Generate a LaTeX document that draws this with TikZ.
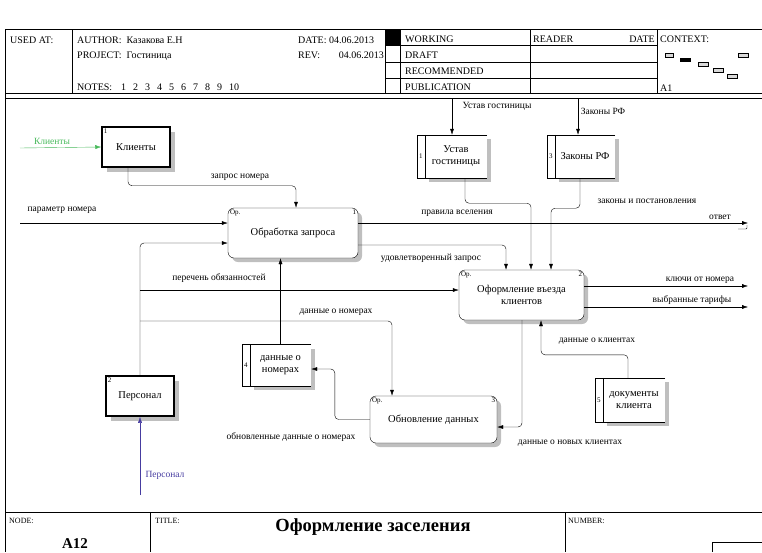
\documentclass[tikz,border=0pt]{standalone}
\usepackage{fontspec}
\setmainfont{Liberation Serif}
\usetikzlibrary{arrows.meta, shadows}
\newcommand\lblsize{\fontsize{9.5}{10.5}\selectfont}
\newcommand\boxsize{\fontsize{10.5}{12}\selectfont}
\newcommand\hdrsize{\fontsize{10}{11}\selectfont}
\newcommand\smallsize{\fontsize{8}{9}\selectfont}
\newcommand\tinysize{\fontsize{7}{8}\selectfont}
\definecolor{extgreen}{RGB}{70,185,90}
\definecolor{extblue}{RGB}{70,60,160}
\tikzset{
  ext/.style={draw, line width=1.5pt, fill=white, minimum width=68pt, minimum height=40pt, font=\boxsize,
    general shadow={fill=gray!50, shadow xshift=5pt, shadow yshift=-5pt}},
  act/.style={draw, rounded corners=6pt, fill=white, font=\boxsize, align=center,
    general shadow={fill=gray!50, shadow xshift=4pt, shadow yshift=-4pt},
    label={[anchor=north west, font=\tinysize, inner sep=2pt]north west:Ор.},
    label={[anchor=north east, font=\tinysize, inner sep=2pt]north east:#1}},
  store/.style={fill=white, align=center, font=\boxsize, inner sep=1pt, minimum height=43pt,
    general shadow={fill=gray!50, shadow xshift=4pt, shadow yshift=-4pt},
    label={[font=\tinysize, inner sep=0pt, label distance=2pt]west:#1}},
  num/.style={font=\tinysize, anchor=north west, inner sep=0pt},
  lbl/.style={font=\lblsize, inner sep=1pt},
  hdr/.style={font=\hdrsize, anchor=base west, inner sep=0pt},
  flow/.style={->, rounded corners=4pt},
  >={Latex[length=6pt, width=4pt]},
}

\begin{document}
\begin{tikzpicture}[x=1pt, y=-1pt]
  \useasboundingbox (0,0) rectangle (762,552);

  % frame and header
  \draw[line width=1pt] (5,29) -- (5,552);
  \draw (5,29) -- (762,29);
  \draw (5,93) -- (762,93);
  \draw (5,98) -- (762,98);
  \draw (72,29) -- (72,93);
  \draw (385,29) -- (385,93);
  \draw (400,29) -- (400,93);
  \draw (530,29) -- (530,93);
  \draw (657,29) -- (657,93);
  \draw (385,45) -- (657,45);
  \draw (385,62) -- (657,62);
  \draw (385,78) -- (657,78);
  \fill (385,29) rectangle (400,45);
  \node[hdr] (usedat) at (10,43) {USED AT:};
  \node[hdr] (author) at (77,43) {AUTHOR:~~Казакова Е.Н};
  \node[hdr] (project) at (77,58) {PROJECT:~~Гостиница};
  \node[hdr] (notes) at (77,90) {NOTES:\hspace{9pt}1\hspace{7pt}2\hspace{7pt}3\hspace{7pt}4\hspace{7pt}5\hspace{7pt}6\hspace{7pt}7\hspace{7pt}8\hspace{7pt}9\hspace{7pt}10};
  \node[hdr] (date) at (298,43) {DATE:~04.06.2013};
  \node[hdr] (rev) at (298,58) {REV:};
  \node[hdr, anchor=base east] (revdate) at (384,58) {04.06.2013};
  \node[hdr] (working) at (405,42) {WORKING};
  \node[hdr] (draft) at (405,58) {DRAFT};
  \node[hdr] (recomm) at (405,74) {RECOMMENDED};
  \node[hdr] (public) at (405,90) {PUBLICATION};
  \node[hdr] (reader) at (533,42) {READER};
  \node[hdr, anchor=base east] (rdate) at (655,42) {DATE};
  \node[hdr] (context) at (660,42) {CONTEXT:};
  \node[hdr] (ctxnode) at (660,91) {A1};
  \draw[fill=gray!30] (665,53) rectangle (673,57);
  \draw[fill=black] (680,58) rectangle (690,61);
  \draw[fill=gray!30] (698,62) rectangle (708,66);
  \draw[fill=gray!30] (713,68) rectangle (723,72);
  \draw[fill=gray!30] (727,74) rectangle (737,78);
  \draw[fill=gray!30] (738,53) rectangle (748,57);

  % footer
  \draw (5,512) -- (762,512);
  \draw (150,512) -- (150,552);
  \draw (565,512) -- (565,552);
  \draw (762,542) -- (712,542) -- (712,552);
  \node[font=\smallsize, anchor=base west, inner sep=0pt] (nodelbl) at (9,523) {NODE:};
  \node[font=\fontsize{15}{17}\selectfont\bfseries, anchor=base, inner sep=0pt] (nodeno) at (75,548) {A12};
  \node[font=\smallsize, anchor=base west, inner sep=0pt] (titlelbl) at (155,523) {TITLE:};
  \node[font=\fontsize{18.5}{20}\selectfont\bfseries, anchor=base, inner sep=0pt] (title) at (373,531) {Оформление заселения};
  \node[font=\smallsize, anchor=base west, inner sep=0pt] (numlbl) at (568,523) {NUMBER:};

  % external boxes
  \node[ext] (klienty) at (136,147) {Клиенты};
  \node[num] at ([shift={(2.5pt,-2.5pt)}]klienty.north west) {1};
  \node[ext] (personal) at (140,396) {Персонал};
  \node[num] at ([shift={(2.5pt,-2.5pt)}]personal.north west) {2};

  % activities
  \node[act=1, minimum width=130pt, minimum height=50pt] (obr) at (293,233) {Обработка запроса};
  \node[act=2, minimum width=125pt, minimum height=50pt] (oform) at (521.5,295) {Оформление въезда\\клиентов};
  \node[act=3, minimum width=127pt, minimum height=47pt] (obnov) at (433.5,419.5) {Обновление данных};

  % stores
  \node[store=1, minimum width=62pt] (ustav) at (456,156.5) {Устав\\гостиницы};
  \node[store=3, minimum width=60pt] (zakony) at (585,156.5) {Законы РФ};
  \node[store=4, minimum width=61pt, minimum height=41pt] (dannye) at (280.5,365) {данные о\\номерах};
  \node[store=5, minimum width=62pt, minimum height=44pt] (docs) at (634,400) {документы\\клиента};
  \foreach \s in {ustav, zakony, dannye, docs} {
    \draw (\s.north east) -- ([xshift=-8pt]\s.north west) -- ([xshift=-8pt]\s.south west) -- (\s.south east);
    \draw (\s.north west) -- (\s.south west);
  }

  % free ends
  \coordinate (kin) at (20,148);
  \coordinate (pin) at (20,223);
  \coordinate (u0) at (452,99);
  \coordinate (z0) at (578,99);
  \coordinate (otv) at (748,223);
  \coordinate (k1) at (748,286);
  \coordinate (k2) at (748,307);
  \coordinate (p0) at (140,495);
  \coordinate (f1) at ([yshift=5pt]oform.west);
  \coordinate (j2) at (140,321);

  % connectors
  \draw[->, extgreen] (kin) -- (klienty.west);
  \node[lbl, text=extgreen] (lklienty) at (52,141) {Клиенты};
  \draw[flow] ([xshift=-8pt]klienty.south) -- ++(0,18) -| ([xshift=3pt]obr.north);
  \node[lbl] (lzapros) at (240,177) {запрос номера};
  \draw[->] (pin) -- (pin -| obr.west);
  \node[lbl] (lparam) at (62,210) {параметр номера};
  \draw[flow] (personal.north) |- ([yshift=-10pt]obr.west);
  \draw[->] (personal.north |- f1) -- (f1);
  \node[lbl] (lperech) at (219,278) {перечень обязанностей};
  \draw[flow] (j2) -| ([xshift=-41.5pt]obnov.north);
  \node[lbl] (ldannye) at (336,312) {данные о номерах};
  \draw[->] (dannye.north) -- (dannye.north |- obr.south);
  \draw[flow] (obnov.west) -- ++(-35,0) |- ([yshift=-4pt]dannye.east);
  \node[lbl] (lobnovl) at (291,437) {обновленные данные о номерах};
  \draw[flow] ([yshift=-12pt]obr.east) -| ([xshift=-15.5pt]oform.north);
  \node[lbl] (ludovl) at (431,258) {удовлетворенный запрос};
  \draw[->] ([yshift=10pt]obr.east) -- (otv);
  \draw[rounded corners=1pt] ([xshift=-10pt, yshift=-6pt]otv) -- ([xshift=-1pt, yshift=-6pt]otv) -- ([xshift=-1pt, yshift=-2pt]otv);
  \node[lbl] (lpravila) at (457,213) {правила вселения};
  \node[lbl] (lotvet) at (720,217) {ответ};
  \draw[->] (u0) -- (u0 |- ustav.north);
  \node[lbl] (lustav) at (497,106) {Устав гостиницы};
  \draw[flow] ([xshift=9pt]ustav.south) -- ++(0,25) -| ([xshift=9.5pt]oform.north);
  \draw[->] (z0) -- (z0 |- zakony.north);
  \node[lbl] (lzakony) at (603,111) {Законы РФ};
  \draw[flow] ([xshift=-5pt]zakony.south) -- ++(0,30) -| ([xshift=29.5pt]oform.north);
  \node[lbl] (lzakpost) at (647,201) {законы и постановления};
  \draw[->] ([yshift=9pt]oform.east) -- (k1);
  \node[lbl] (lkluchi) at (700,280) {ключи от номера};
  \draw[->] ([yshift=-12pt]oform.east) -- (k2);
  \node[lbl] (ltarif) at (692,300) {выбранные тарифы};
  \draw[flow] ([xshift=-6pt]docs.north) -- ++(0,-23) -| ([xshift=19.5pt]oform.south);
  \node[lbl] (lkl) at (597,341) {данные о клиентах};
  \draw[flow] ([xshift=0.5pt]oform.south) |- ([yshift=-7.5pt]obnov.east);
  \node[lbl] (lnovye) at (570,443) {данные о новых клиентах};
  \draw[->, extblue] (p0) -- (personal.south);
  \node[lbl, text=extblue] (lpersonal) at (165,475) {Персонал};
\end{tikzpicture}
\end{document}
